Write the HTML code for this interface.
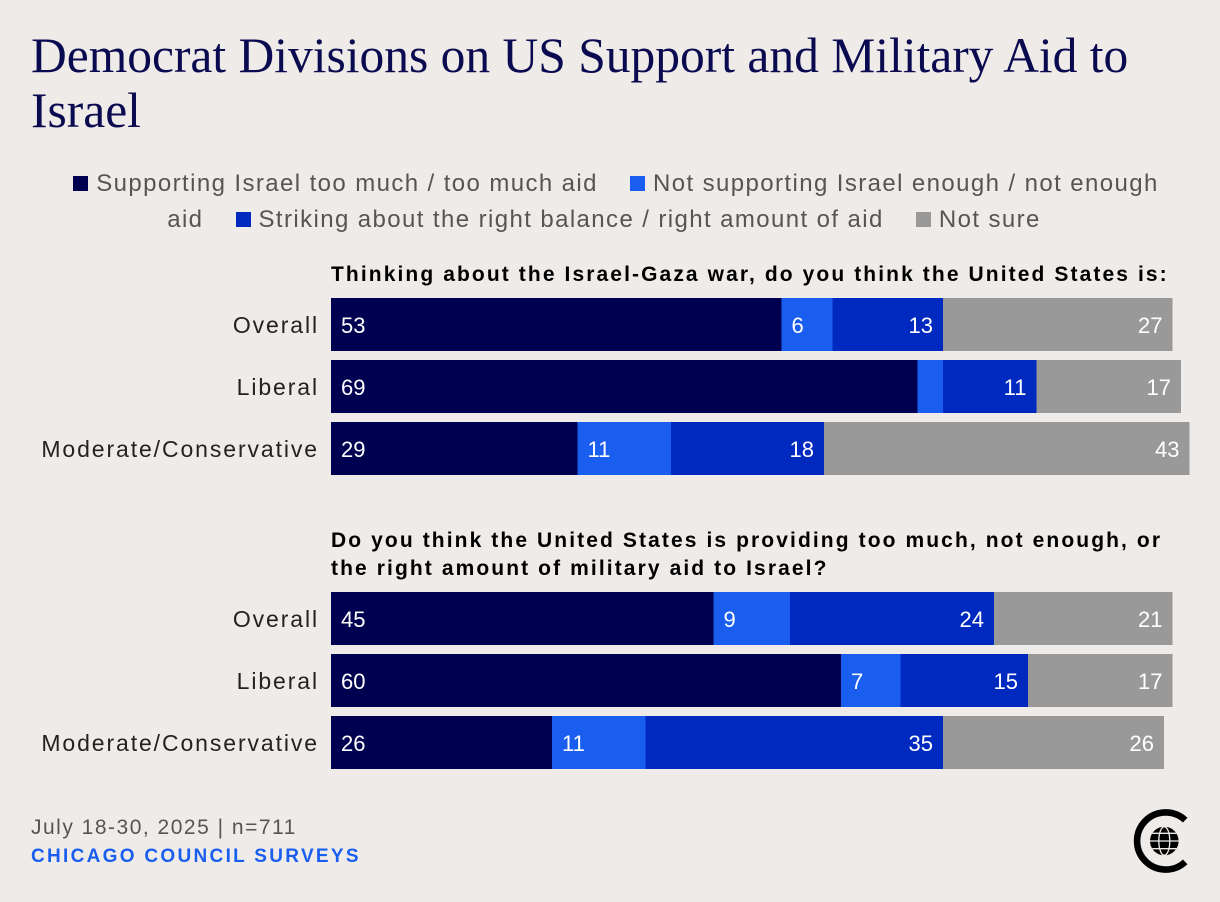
<!DOCTYPE html>
<html><head><meta charset="utf-8"><style>
body{margin:0;width:1220px;height:902px;background:#efebe8;font-family:"Liberation Sans",sans-serif;position:relative;overflow:hidden}
#title{position:absolute;left:31px;top:28px;width:1110px;font-family:"Liberation Serif",serif;font-size:49.5px;line-height:55px;color:#0a0a50;margin:0;font-weight:normal}
#legend{position:absolute;left:40px;top:166px;width:1140px;text-align:center;font-size:24px;letter-spacing:1.4px;line-height:36px;color:#555}
.li{margin:0 12px;white-space:nowrap}
.li.wrap{white-space:normal}
.sw{display:inline-block;width:15px;height:15px;margin-right:8px;vertical-align:0px}
.q{position:absolute;left:331px;font-weight:bold;font-size:21px;letter-spacing:2.1px;line-height:28px;color:#000}
.foot{position:absolute;left:31px;font-size:21px;letter-spacing:1.5px}
</style></head><body>
<h1 id="title">Democrat Divisions on US Support and Military Aid to Israel</h1>
<div id="legend">
<span class="li"><span class="sw" style="background:#000050"></span>Supporting Israel too much / too much aid</span>
<span class="li wrap"><span class="sw" style="background:#1a5ef0"></span>Not supporting Israel enough / not enough aid</span>
<span class="li"><span class="sw" style="background:#0029c0"></span>Striking about the right balance / right amount of aid</span>
<span class="li"><span class="sw" style="background:#999"></span>Not sure</span>
</div>
<div class="q" style="top:261px;white-space:nowrap">Thinking about the Israel-Gaza war, do you think the United States is:</div>
<div class="q" style="top:527px;width:845px">Do you think the United States is providing too much, not enough, or the right amount of military aid to Israel?</div>
<svg id="chart" width="1220" height="902" style="position:absolute;left:0;top:0"></svg>
<div class="foot" style="top:816px;color:#555">July 18-30, 2025 | n=711</div>
<div class="foot" style="top:846px;color:#1a5ef0;font-weight:bold;font-size:19px;letter-spacing:2.3px">CHICAGO COUNCIL SURVEYS</div>
<svg width="66" height="66" style="position:absolute;left:1128px;top:808px" viewBox="0 0 60 60">
<path d="M52 11 A26 26 0 1 0 52 49" fill="none" stroke="#000" stroke-width="6"/>
<circle cx="33" cy="30" r="13" fill="#000"/>
<g stroke="#efebe8" stroke-width="1.2" fill="none"><ellipse cx="33" cy="30" rx="5" ry="13"/><line x1="20" y1="30" x2="46" y2="30"/><line x1="22" y1="23" x2="44" y2="23"/><line x1="22" y1="37" x2="44" y2="37"/></g>
</svg>
<script>
const groups=["Overall","Liberal","Moderate/Conservative"];
const tooMuch1=[53,69,29], notEnough1=[6,3,11], right1=[13,11,18], notSure1=[27,17,43];
const tooMuch2=[45,60,26], notEnough2=[9,7,11], right2=[24,15,35], notSure2=[21,17,26];
const showNE1=[true,false,true];
const colors=["#000050","#1a5ef0","#0029c0","#999999"];
const svg=document.getElementById('chart');
const NS="http://www.w3.org/2000/svg";
const x0=331, scale=8.5;
const xs=v=>v*scale;
function panel(series,top,pid,show){
  groups.forEach((g,i)=>{
    const y=top+i*62;
    const lab=document.createElementNS(NS,'text');
    
    
    lab.setAttribute('x',319);lab.setAttribute('y',y+35);lab.setAttribute('text-anchor','end');
    lab.setAttribute('font-size','23');lab.setAttribute('letter-spacing','1.9');lab.setAttribute('fill','#222');lab.setAttribute('font-family','Liberation Sans, sans-serif');
    lab.textContent=g;svg.appendChild(lab);
    let x=x0;
    series.forEach((s,k)=>{
      const w=xs(s[i]);
      const r=document.createElementNS(NS,'rect');
      
      
      r.setAttribute('x',x);r.setAttribute('y',y);r.setAttribute('width',w);r.setAttribute('height',53);
      r.setAttribute('fill',colors[k]);svg.appendChild(r);
      if(!(k==1&&show&&!show[i])){
        const t=document.createElementNS(NS,'text');
        
        
        const left=k<2;
        t.setAttribute('x',left?x+10:x+w-10);t.setAttribute('text-anchor',left?'start':'end');
        t.setAttribute('y',y+35);t.setAttribute('font-size','22');t.setAttribute('fill','#fff');
        t.setAttribute('font-family','Liberation Sans, sans-serif');
        t.textContent=s[i];svg.appendChild(t);
      }
      x+=w;
    });
  });
}
panel([tooMuch1,notEnough1,right1,notSure1],298,'q1',showNE1);
panel([tooMuch2,notEnough2,right2,notSure2],592,'q2',null);
</script>
</body></html>
